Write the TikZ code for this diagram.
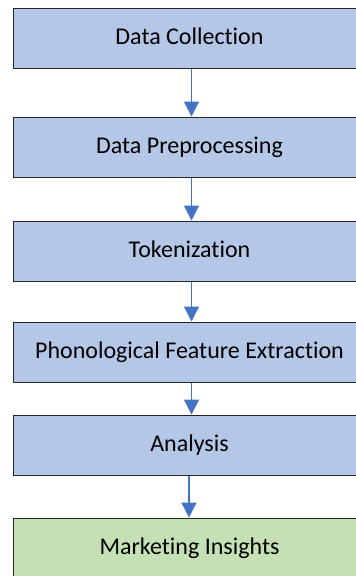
\documentclass[tikz,border=0pt]{standalone}
\usepackage{fontspec}
\setmainfont{Carlito}[Ligatures=NoCommon]
\usetikzlibrary{arrows.meta}
\definecolor{boxblue}{HTML}{B4C7E7}
\definecolor{boxgreen}{HTML}{C5E0B4}
\definecolor{arrowblue}{HTML}{4472C4}
\definecolor{edge}{HTML}{262626}
\newcommand{\lift}[1]{\raisebox{4pt}{#1}\kern4pt\relax}
\begin{document}
\begin{tikzpicture}[x=1pt,y=1pt,
  stepbox/.style={draw=edge,line width=1pt,minimum width=356pt,minimum height=60pt,inner sep=0pt,
    font=\fontsize{24}{28}\selectfont,text=black},
  flow/.style={draw=arrowblue,line width=1.3pt,-{Triangle[length=15pt,width=15pt]},arrowblue}]
\useasboundingbox (0,0) rectangle (356,-576);
\clip (0,0) rectangle (356,-576);
\node[stepbox,fill=boxblue] (a) at (191.5,-38.5) {\lift{Data Collection}};
\node[stepbox,fill=boxblue] (b) at (191.5,-147) {\lift{Data Preprocessing}};
\node[stepbox,fill=boxblue] (c) at (191.5,-251) {\lift{Tokenization}};
\node[stepbox,fill=boxblue] (d) at (191.5,-352) {\lift{Phonological Feature Extraction}};
\node[stepbox,fill=boxblue] (e) at (191.5,-445) {\lift{Analysis}};
\node[stepbox,fill=boxgreen] (f) at (191.5,-548) {\lift{Marketing Insights}};
\draw[flow] (a.south) -- (b.north);
\draw[flow] (b.south) -- (c.north);
\draw[flow] (c.south) -- (d.north);
\draw[flow] (d.south) -- (e.north);
\draw[flow] ([xshift=-2.5pt]e.south) -- ([xshift=-2.5pt]f.north);
\end{tikzpicture}
\end{document}
